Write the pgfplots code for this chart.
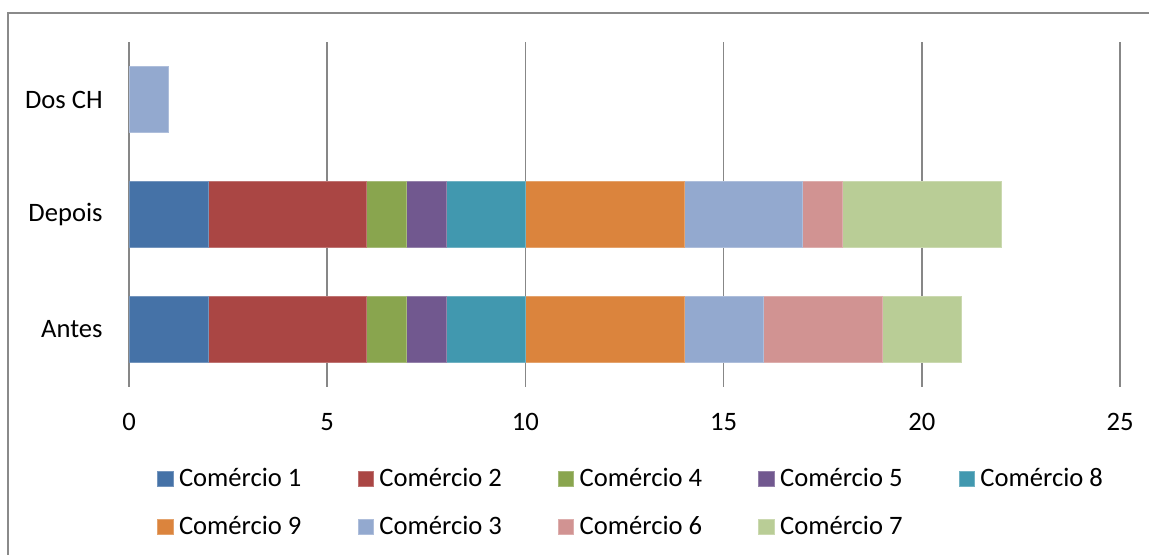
\documentclass[border=0pt]{standalone}
\usepackage{fontspec}
\setmainfont{Carlito}
\usepackage{pgfplots}
\pgfplotsset{compat=1.18}

\definecolor{c1}{HTML}{4572A7}
\definecolor{c2}{HTML}{AA4644}
\definecolor{c4}{HTML}{89A54E}
\definecolor{c5}{HTML}{71588F}
\definecolor{c8}{HTML}{4198AF}
\definecolor{c9}{HTML}{DB843D}
\definecolor{c3}{HTML}{93A9CF}
\definecolor{c6}{HTML}{D19392}
\definecolor{c7}{HTML}{B9CD96}
\definecolor{gridgray}{HTML}{878787}
\definecolor{framegray}{HTML}{8A8A8A}

\newcommand{\fs}{\fontsize{13.3}{16}\selectfont}

\begin{document}
\begin{tikzpicture}
% chart area frame
\draw[framegray, line width=1pt] (4pt,-20pt) -- (4pt,271pt) -- (600pt,271pt);

\begin{axis}[
  at={(64.5pt,84pt)}, anchor=south west, scale only axis,
  width=495.5pt, height=172.5pt,
  xbar stacked, bar width=32.7pt,
  xmin=0, xmax=25, ymin=-0.5, ymax=2.5,
  xtick={0,5,...,25},
  ytick={0,1,2}, yticklabels={Antes,Depois,Dos CH},
  xmajorgrids, grid style={gridgray, line width=0.75pt},
  axis line style={draw=none}, major tick length=0pt,
  /pgf/number format/assume math mode=true,
  tick label style={font=\fs},
  xticklabel style={inner sep=0pt, anchor=north, yshift=-13pt},
  yticklabel style={inner sep=0pt, anchor=east, xshift=-13pt},
  legend columns=5,
  legend style={
    at={(0.0286,-0.235)}, anchor=north west,
    draw=none, fill=none, inner sep=0pt, outer sep=0pt,
    font=\fs,
    nodes={inner sep=0pt, anchor=base west},
    /tikz/row sep=13.2pt,
    /tikz/every odd column/.append style={column sep=2.8pt},
    /tikz/every even column/.append style={column sep=28.1pt},
  },
  legend image code/.code={\fill[#1] (0pt,-0.2pt) rectangle (7.65pt,7.45pt);},
]
\addplot[fill=c1, draw=c1!75!white, line width=0.4pt] coordinates {(2,0) (2,1)};
\addplot[fill=c2, draw=c2!75!white, line width=0.4pt] coordinates {(4,0) (4,1)};
\addplot[fill=c4, draw=c4!75!white, line width=0.4pt] coordinates {(1,0) (1,1)};
\addplot[fill=c5, draw=c5!75!white, line width=0.4pt] coordinates {(1,0) (1,1)};
\addplot[fill=c8, draw=c8!75!white, line width=0.4pt] coordinates {(2,0) (2,1)};
\addplot[fill=c9, draw=c9!75!white, line width=0.4pt] coordinates {(4,0) (4,1)};
\addplot[fill=c3, draw=c3!75!white, line width=0.4pt] coordinates {(2,0) (3,1)};
\addplot[fill=c6, draw=c6!75!white, line width=0.4pt] coordinates {(3,0) (1,1)};
\addplot[fill=c7, draw=c7!75!white, line width=0.4pt] coordinates {(2,0) (4,1)};
% the single bar of the third category
\addplot[stack plots=false, bar shift=0pt, fill=c3, draw=c3!75!white,
  line width=0.4pt, forget plot] coordinates {(1,2)};
\legend{Comércio 1,Comércio 2,Comércio 4,Comércio 5,Comércio 8,
        Comércio 9,Comércio 3,Comércio 6,Comércio 7}
\end{axis}

\pgfresetboundingbox
\path[use as bounding box] (0,0) rectangle (574.5pt,277.5pt);
\end{tikzpicture}
\end{document}
